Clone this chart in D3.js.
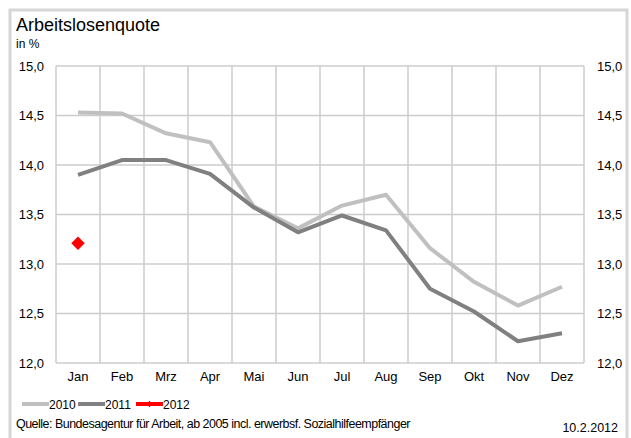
<!DOCTYPE html>
<html>
<head>
<meta charset="utf-8">
<script src="https://cdn.jsdelivr.net/npm/d3@7"></script>
<style>
  html, body { margin: 0; padding: 0; background: #fff; }
  svg { display: block; font-family: "Liberation Sans", Arial, sans-serif; }
</style>
</head>
<body>
<svg id="chart" width="631" height="438"></svg>
<script>
// Monthly unemployment rate (%)
const months = ["Jan", "Feb", "Mrz", "Apr", "Mai", "Jun", "Jul", "Aug", "Sep", "Okt", "Nov", "Dez"];
const rate2010 = [14.53, 14.52, 14.32, 14.23, 13.58, 13.36, 13.59, 13.70, 13.16, 12.82, 12.58, 12.77];
const rate2011 = [13.90, 14.05, 14.05, 13.91, 13.57, 13.32, 13.49, 13.34, 12.75, 12.52, 12.22, 12.30];
const rate2012 = [13.21];
const yTicks = [12.0, 12.5, 13.0, 13.5, 14.0, 14.5, 15.0];
const seriesNames = ["2010", "2011", "2012"];

const svg = d3.select("#chart");
const plot = { left: 56, right: 584, top: 66, bottom: 363 };

// outer frame
svg.append("rect")
  .attr("x", 10).attr("y", 10).attr("width", 617).attr("height", 440)
  .attr("fill", "none").attr("stroke", "#d6d6d6").attr("stroke-width", 3);

const x = d3.scaleBand().domain(months).range([plot.left, plot.right]).padding(0);
const y = d3.scaleLinear().domain([12, 15]).range([plot.bottom, plot.top]);

// grid: horizontal
svg.append("g")
  .selectAll("line").data(yTicks).join("line")
  .attr("x1", plot.left).attr("x2", plot.right)
  .attr("y1", d => y(d)).attr("y2", d => y(d))
  .attr("stroke", "#cccccc").attr("stroke-width", 1.5);

// grid: vertical at band edges
const edges = months.map(m => x(m)).concat([plot.right]);
svg.append("g")
  .selectAll("line").data(edges).join("line")
  .attr("x1", d => d).attr("x2", d => d)
  .attr("y1", plot.top).attr("y2", plot.bottom)
  .attr("stroke", "#cccccc").attr("stroke-width", 1.5);

const fmt = d => d3.format(".1f")(d).replace(".", ",");

// left axis
const leftAxis = svg.append("g")
  .attr("transform", `translate(${plot.left},0)`)
  .call(d3.axisLeft(y).tickValues(yTicks).tickFormat(fmt).tickSize(0).tickPadding(12));
leftAxis.select(".domain").remove();

// right axis
const rightAxis = svg.append("g")
  .attr("transform", `translate(${plot.right},0)`)
  .call(d3.axisRight(y).tickValues(yTicks).tickFormat(fmt).tickSize(0).tickPadding(13));
rightAxis.select(".domain").remove();

// bottom axis
const bottomAxis = svg.append("g")
  .attr("transform", `translate(0,${plot.bottom})`)
  .call(d3.axisBottom(x).tickSize(0).tickPadding(9));
bottomAxis.select(".domain").remove();

svg.selectAll(".tick text")
  .attr("font-size", 13).attr("fill", "#000")
  .attr("font-family", "'Liberation Sans', Arial, sans-serif");

const line = d3.line()
  .x((d, i) => x(months[i]) + x.bandwidth() / 2)
  .y(d => y(d));

svg.append("path").datum(rate2010)
  .attr("d", line).attr("fill", "none")
  .attr("stroke", "#c0c0c0").attr("stroke-width", 4).attr("stroke-linejoin", "round");

svg.append("path").datum(rate2011)
  .attr("d", line).attr("fill", "none")
  .attr("stroke", "#808080").attr("stroke-width", 4).attr("stroke-linejoin", "round");

// 2012 points as diamonds (rotated squares)
const square = d3.symbol().type(d3.symbolSquare).size(90);
svg.append("g").selectAll("path").data(rate2012).join("path")
  .attr("d", square)
  .attr("transform", (d, i) => `translate(${x(months[i]) + x.bandwidth() / 2},${y(d)}) rotate(45)`)
  .attr("fill", "#ff0000");

// title
svg.append("text").attr("x", 16).attr("y", 31)
  .attr("font-size", 18).text("Arbeitslosenquote");
svg.append("text").attr("x", 16).attr("y", 48)
  .attr("font-size", 12).text("in %");

// legend
const legendItems = [
  { name: seriesNames[0], color: "#c0c0c0", x0: 22 },
  { name: seriesNames[1], color: "#808080", x0: 78 },
  { name: seriesNames[2], color: "#ff0000", x0: 136, marker: true }
];
const lg = svg.append("g").selectAll("g").data(legendItems).join("g");
lg.append("line")
  .attr("x1", d => d.x0).attr("x2", d => d.x0 + 27)
  .attr("y1", 404).attr("y2", 404)
  .attr("stroke", d => d.color).attr("stroke-width", 4);
lg.filter(d => d.marker).append("path")
  .attr("d", d3.symbol().type(d3.symbolSquare).size(20))
  .attr("transform", d => `translate(${d.x0 + 13.5},404) rotate(45)`)
  .attr("fill", "#ff0000");
lg.append("text")
  .attr("x", d => d.x0 + 27).attr("y", 409)
  .attr("font-size", 12).text(d => d.name);

// source and date
svg.append("text").attr("x", 16).attr("y", 428)
  .attr("font-size", 12.5).attr("letter-spacing", -0.5)
  .attr("textLength", 394).attr("lengthAdjust", "spacingAndGlyphs")
  .text("Quelle: Bundesagentur für Arbeit, ab 2005 incl. erwerbsf. Sozialhilfeempfänger");
svg.append("text").attr("x", 618).attr("y", 432)
  .attr("font-size", 12.5).attr("text-anchor", "end").text("10.2.2012");
</script>
</body>
</html>
